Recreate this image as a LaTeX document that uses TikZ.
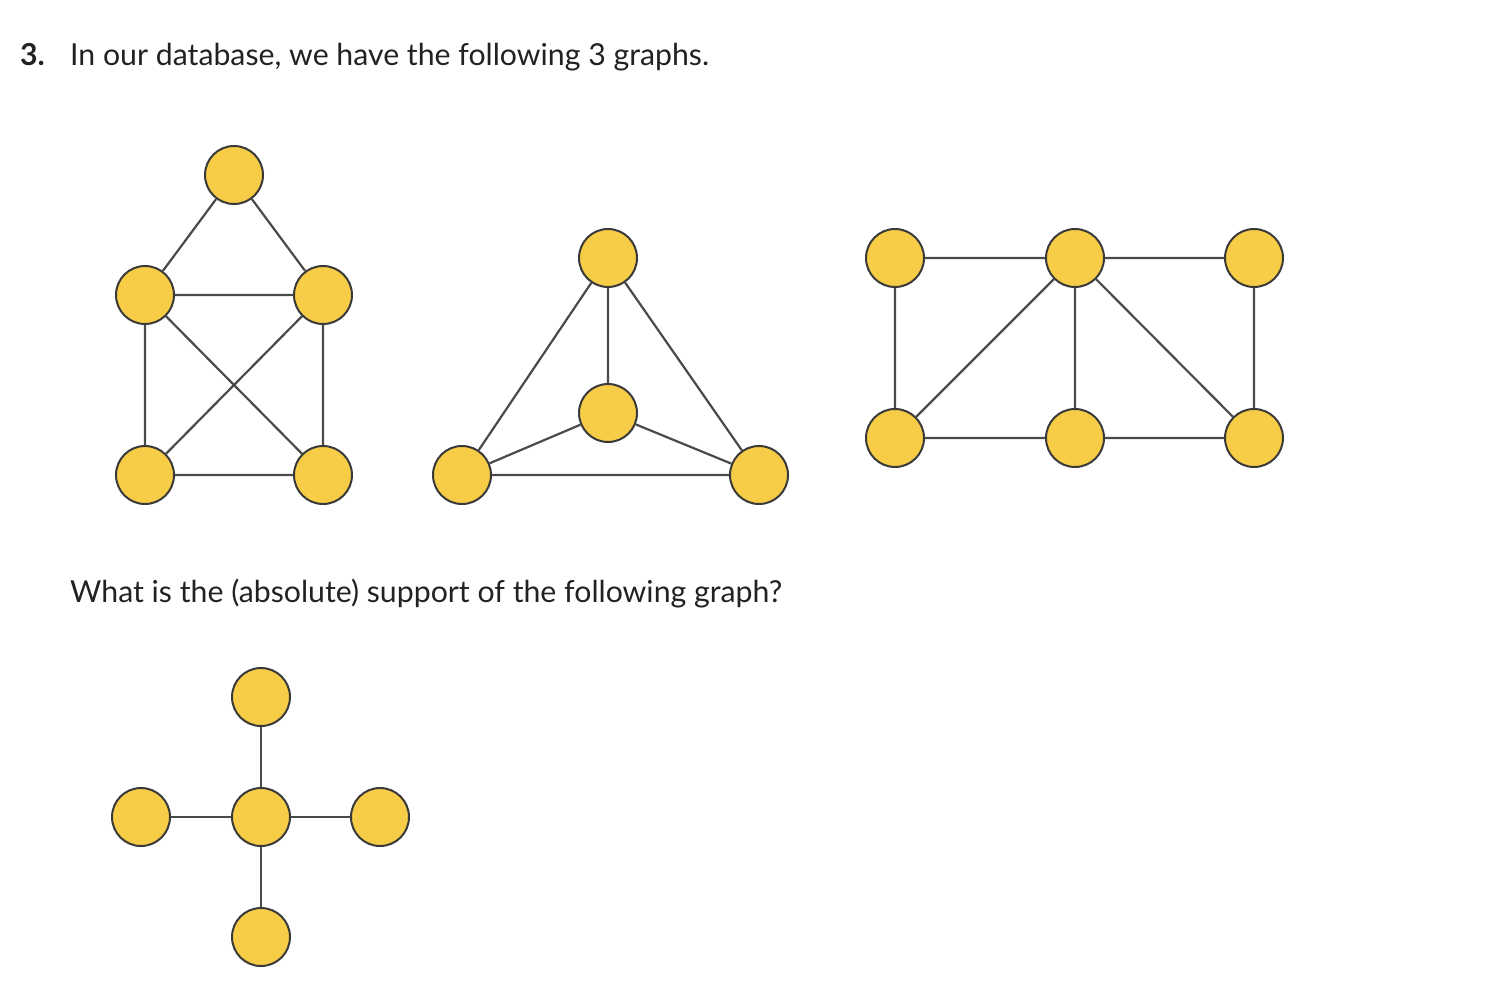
\documentclass[tikz,border=0pt]{standalone}
\usepackage{fontspec}
\setmainfont{Lato}
\usetikzlibrary{positioning}

\definecolor{vertexfill}{HTML}{F7CC46}
\definecolor{vertexline}{HTML}{3A3A3A}
\definecolor{edgeline}{HTML}{4A4A4A}
\definecolor{textcol}{HTML}{222222}

\tikzset{
  vertex/.style={circle, draw=vertexline, fill=vertexfill, line width=2pt, minimum size=58pt, inner sep=0pt},
  edge/.style={draw=edgeline, line width=2.2pt},
  question/.style={anchor=base west, inner sep=0pt, text=textcol, font=\fontsize{30.25}{36}\selectfont}
}

\begin{document}
\begin{tikzpicture}[x=1pt, y=-1pt]
    \useasboundingbox (0,0) rectangle (1498,996);

    % Texte
    \node[question] (num) at (20,65) {\textbf{3.}};
    \node[question] (intro) at (70,65) {In our database, we have the following 3 graphs.};
    \node[question] (ask) at (70,602) {What is the (absolute) support of the following graph?};

    % Graph 1 - house shape
    \node[vertex] (a1) at (234,175) {};
    \node[vertex] (a2) at (145,295) {};
    \node[vertex] (a3) at (323,295) {};
    \node[vertex] (a4) at (145,475) {};
    \node[vertex] (a5) at (323,475) {};

    % Graph 2 - triangle with centre
    \node[vertex] (b1) at (608,258) {};
    \node[vertex] (b2) at (608,413) {};
    \node[vertex] (b3) at (462,475) {};
    \node[vertex] (b4) at (759,475) {};

    % Graph 3 - two rows of three
    \node[vertex] (c1) at (895,258) {};
    \node[vertex] (c2) at (1075,258) {};
    \node[vertex] (c3) at (1254,258) {};
    \node[vertex] (c4) at (895,438) {};
    \node[vertex] (c5) at (1075,438) {};
    \node[vertex] (c6) at (1254,438) {};

    % Graph 4 - star
    \node[vertex] (d1) at (261,697) {};
    \node[vertex] (d2) at (141,817) {};
    \node[vertex] (d3) at (261,817) {};
    \node[vertex] (d4) at (380,817) {};
    \node[vertex] (d5) at (261,937) {};

    % Kanten
    \path[edge] (a1) -- (a2) (a1) -- (a3) (a2) -- (a3) (a2) -- (a4)
        (a3) -- (a5) (a2) -- (a5) (a3) -- (a4) (a4) -- (a5);
    \path[edge] (b1) -- (b2) (b1) -- (b3) (b1) -- (b4)
        (b2) -- (b3) (b2) -- (b4) (b3) -- (b4);
    \path[edge] (c1) -- (c2) (c2) -- (c3) (c1) -- (c4) (c3) -- (c6)
        (c4) -- (c5) (c5) -- (c6) (c2) -- (c4) (c2) -- (c5) (c2) -- (c6);
    \path[edge] (d3) -- (d1) (d3) -- (d2) (d3) -- (d4) (d3) -- (d5);

\end{tikzpicture}
\end{document}
